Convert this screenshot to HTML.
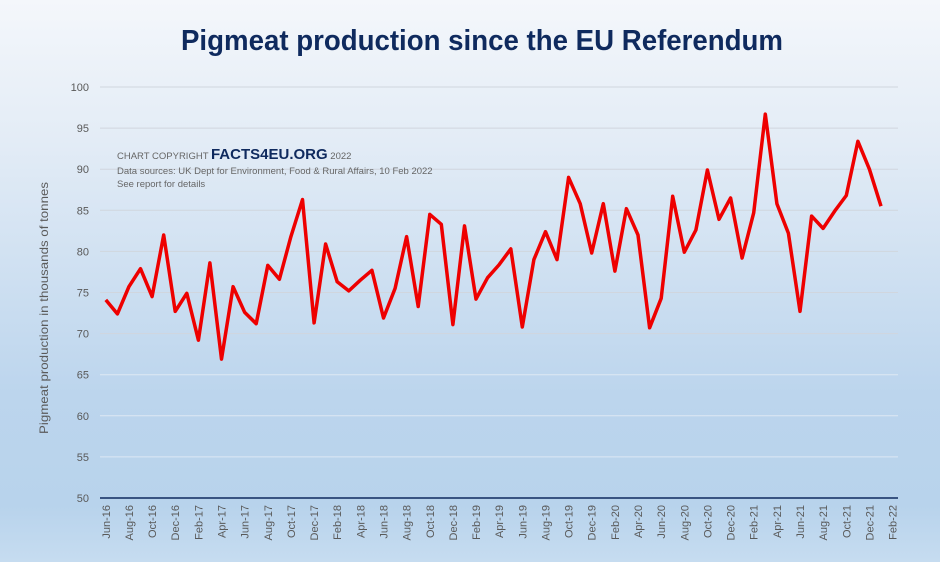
<!DOCTYPE html>
<html><head><meta charset="utf-8"><style>
html,body{margin:0;padding:0;}
body{width:940px;height:562px;overflow:hidden;}
svg{display:block;font-family:"Liberation Sans",sans-serif;}
</style></head><body>
<svg width="940" height="562" viewBox="0 0 940 562" xmlns="http://www.w3.org/2000/svg">
<defs>
<linearGradient id="bg" x1="0" y1="0" x2="0" y2="1">
<stop offset="0" stop-color="#f4f7fb"/>
<stop offset="0.25" stop-color="#e3ecf6"/>
<stop offset="0.7" stop-color="#bcd5ed"/>
<stop offset="0.9" stop-color="#b8d3ec"/>
<stop offset="1" stop-color="#c6dcf0"/>
</linearGradient>
</defs>
<rect width="940" height="562" fill="url(#bg)"/>
<text x="482" y="50" text-anchor="middle" font-size="29" font-weight="bold" fill="#0f2a5e" textLength="602" lengthAdjust="spacingAndGlyphs">Pigmeat production since the EU Referendum</text>
<g id="grid"></g>
<line x1="100" y1="498" x2="898" y2="498" stroke="#0f2a5e" stroke-width="1.5"/>
<text transform="translate(48,308) rotate(-90)" text-anchor="middle" font-size="12" fill="#5a5a5a" textLength="252" lengthAdjust="spacingAndGlyphs">Pigmeat production in thousands of tonnes</text>
<text x="117" y="159" font-size="9.5" fill="#666">CHART COPYRIGHT <tspan font-size="15" font-weight="bold" fill="#0f2a5e">FACTS4EU.ORG</tspan> 2022</text>
<text x="117" y="174" font-size="9.5" fill="#666">Data sources: UK Dept for Environment, Food &amp; Rural Affairs, 10 Feb 2022</text>
<text x="117" y="187" font-size="9.5" fill="#666">See report for details</text>
<g id="xl"></g>
<polyline id="ln" fill="none" stroke="#ee0000" stroke-width="3.5" stroke-linejoin="round"/>
</svg>
<script>
var ns="http://www.w3.org/2000/svg";
function Y(v){return 498-(v-50)*8.22;}
var g=document.getElementById("grid");
for(var v=55;v<=100;v+=5){
 var l=document.createElementNS(ns,"line");
 l.setAttribute("x1",100);l.setAttribute("x2",898);l.setAttribute("y1",Y(v));l.setAttribute("y2",Y(v));
 l.setAttribute("stroke",v<=65?"#dde8f4":"#d0d6de");l.setAttribute("stroke-width",1);g.appendChild(l);
}
for(var v=50;v<=100;v+=5){
 var t=document.createElementNS(ns,"text");
 t.setAttribute("x",89);t.setAttribute("y",Y(v)+4);t.setAttribute("text-anchor","end");
 t.setAttribute("font-size","11");t.setAttribute("fill","#595959");t.textContent=v;g.appendChild(t);
}
var d=[74.1,72.4,75.7,77.9,74.5,82,72.7,74.9,69.2,78.6,66.9,75.7,72.6,71.2,78.3,76.6,81.8,86.3,71.3,80.9,76.3,75.2,76.5,77.7,71.9,75.5,81.8,73.3,84.5,83.3,71.1,83.1,74.2,76.8,78.4,80.3,70.8,79,82.4,79,89,85.8,79.8,85.8,77.6,85.2,82,70.7,74.3,86.7,79.9,82.6,89.9,83.9,86.5,79.2,84.7,96.7,85.8,82.2,72.7,84.3,82.8,84.9,86.8,93.4,90,85.5];
var dx=11.57,x0=105.8,pts=[];
for(var i=0;i<d.length;i++)pts.push((x0+i*dx).toFixed(1)+","+Y(d[i]).toFixed(1));
document.getElementById("ln").setAttribute("points",pts.join(" "));
var xl=document.getElementById("xl");
for(var k=0;k<35;k++){
 var mi=5+2*k, yr=16+Math.floor(mi/12), mn=["Jan","Feb","Mar","Apr","May","Jun","Jul","Aug","Sep","Oct","Nov","Dec"][mi%12];
 var x=x0+2*k*dx+4;
 var t=document.createElementNS(ns,"text");
 t.setAttribute("transform","translate("+x+",505) rotate(-90)");
 t.setAttribute("text-anchor","end");t.setAttribute("font-size","11");t.setAttribute("fill","#595959");
 t.textContent=mn+"-"+yr;xl.appendChild(t);
}
</script>
</body></html>
